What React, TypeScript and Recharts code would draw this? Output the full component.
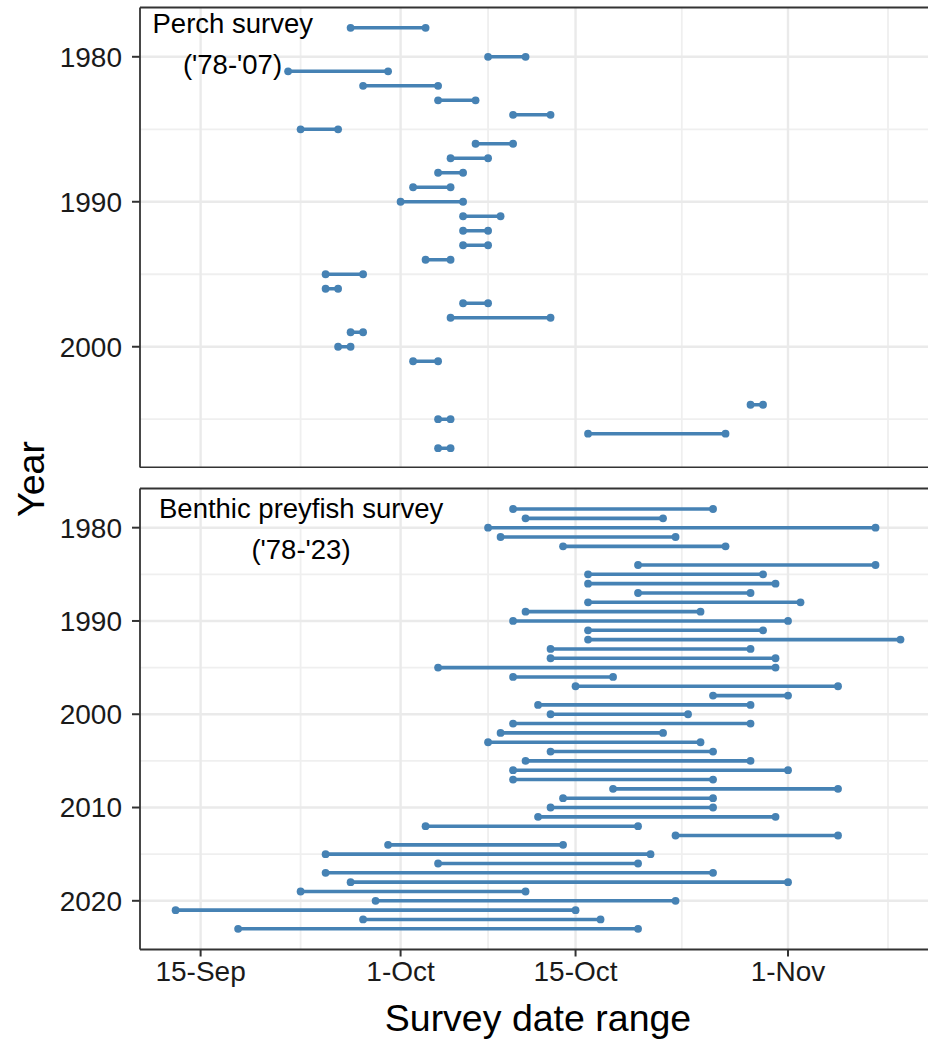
import React from 'react';
import { ScatterChart, Scatter, XAxis, YAxis, ReferenceLine } from 'recharts';

// dates are counted in days from 1-Sep (1-Sep = 0, 1-Oct = 30, 1-Nov = 61)
const xTicks = [14, 30, 44, 61];
const xTickLabels = ['15-Sep', '1-Oct', '15-Oct', '1-Nov'];
const xMinor = [22, 37, 52.5, 69];

const perchYears = [1978, 1980, 1981, 1982, 1983, 1984, 1985, 1986, 1987, 1988, 1989, 1990, 1991, 1992, 1993, 1994, 1995, 1996, 1997, 1998, 1999, 2000, 2001, 2004, 2005, 2006, 2007];
const perchStart = [26, 37, 21, 27, 33, 39, 22, 36, 34, 33, 31, 30, 35, 35, 35, 32, 24, 24, 35, 34, 26, 25, 31, 58, 33, 45, 33];
const perchEnd = [32, 40, 29, 33, 36, 42, 25, 39, 37, 35, 34, 35, 38, 37, 37, 34, 27, 25, 37, 42, 27, 26, 33, 59, 34, 56, 34];

const benthicYears = [1978, 1979, 1980, 1981, 1982, 1984, 1985, 1986, 1987, 1988, 1989, 1990, 1991, 1992, 1993, 1994, 1995, 1996, 1997, 1998, 1999, 2000, 2001, 2002, 2003, 2004, 2005, 2006, 2007, 2008, 2009, 2010, 2011, 2012, 2013, 2014, 2015, 2016, 2017, 2018, 2019, 2020, 2021, 2022, 2023];
const benthicStart = [39, 40, 37, 38, 43, 49, 45, 45, 49, 45, 40, 39, 45, 45, 42, 42, 33, 39, 44, 55, 41, 42, 39, 38, 37, 42, 40, 39, 39, 47, 43, 42, 41, 32, 52, 29, 24, 33, 24, 26, 22, 28, 12, 27, 17];
const benthicEnd = [55, 51, 68, 52, 56, 68, 59, 60, 58, 62, 54, 61, 59, 70, 58, 60, 60, 47, 65, 61, 58, 53, 58, 51, 54, 55, 58, 61, 55, 65, 55, 55, 60, 49, 65, 43, 50, 49, 55, 61, 40, 52, 44, 46, 49];

const perchYTicks = [1980, 1990, 2000];
const perchYMinor = [1985, 1995, 2005];
const benthicYTicks = [1980, 1990, 2000, 2010, 2020];
const benthicYMinor = [1985, 1995, 2005, 2015];

// right end of the panel runs off the picture, so the domain stops at the image edge
const X_DOMAIN: [number, number] = [9.15, 72.2];
const BLUE = '#4682B4';
const FONT = '"Liberation Sans", Arial, sans-serif';
const CHART_W = 928;
const BORDER = '#333333';

const Dot = (props: any) => {
  if (props.cx == null || props.cy == null) return null;
  return <circle cx={props.cx} cy={props.cy} r={3.9} fill={BLUE} />;
};

function Panel({ years, starts, ends, yDomain, yTicks, yMinor, showX, top, height, marginTop }: any) {
  const rows = years.map((y: number, i: number) => [
    { x: starts[i], y },
    { x: ends[i], y },
  ]);
  return (
    <div style={{ position: 'absolute', left: 0, top }}>
      <ScatterChart
        width={CHART_W}
        height={height}
        margin={{ top: marginTop, right: 0, bottom: 0, left: 0 }}
      >
        <XAxis
          type="number"
          dataKey="x"
          domain={X_DOMAIN}
          allowDataOverflow
          ticks={xTicks}
          interval={0}
          tickFormatter={(v: number) => xTickLabels[xTicks.indexOf(v)]}
          hide={!showX}
          height={showX ? 52 : 0}
          axisLine={false}
          tickSize={7}
          tickMargin={5}
          tickLine={{ stroke: BORDER, strokeWidth: 2 }}
          tick={{ fill: '#1a1a1a', fontSize: 28, fontFamily: FONT }}
        />
        <YAxis
          type="number"
          dataKey="y"
          domain={yDomain}
          allowDataOverflow
          reversed
          ticks={yTicks}
          interval={0}
          width={140}
          axisLine={false}
          tickSize={8}
          tickMargin={10}
          tickLine={{ stroke: BORDER, strokeWidth: 2 }}
          tick={{ fill: '#1a1a1a', fontSize: 28, fontFamily: FONT }}
        />
        {xMinor.map((v) => (
          <ReferenceLine key={'xm' + v} x={v} stroke="#EFEFEF" strokeWidth={1.8} zIndex={-100} />
        ))}
        {yMinor.map((v: number) => (
          <ReferenceLine key={'ym' + v} y={v} stroke="#EFEFEF" strokeWidth={1.8} zIndex={-100} />
        ))}
        {xTicks.map((v) => (
          <ReferenceLine key={'xM' + v} x={v} stroke="#EAEAEA" strokeWidth={2.4} zIndex={-100} />
        ))}
        {yTicks.map((v: number) => (
          <ReferenceLine key={'yM' + v} y={v} stroke="#EAEAEA" strokeWidth={2.4} zIndex={-100} />
        ))}
        {rows.map((d: any, i: number) => (
          <Scatter
            key={i}
            data={d}
            fill={BLUE}
            line={{ stroke: BLUE, strokeWidth: 3.6 }}
            shape={Dot}
            isAnimationActive={false}
          />
        ))}
        {/* panel border: left, top, bottom (right side is outside the picture) */}
        <ReferenceLine x={X_DOMAIN[0]} stroke={BORDER} strokeWidth={1.8} zIndex={1000} />
        <ReferenceLine y={yDomain[0]} stroke={BORDER} strokeWidth={1.8} zIndex={1000} />
        <ReferenceLine y={yDomain[1]} stroke={BORDER} strokeWidth={1.8} zIndex={1000} />
      </ScatterChart>
    </div>
  );
}

export default function App() {
  return (
    <div style={{ position: 'fixed', left: 0, top: 0, width: 928, height: 1042, overflow: 'hidden', background: '#fff' }}>
      <style>{'body{margin:0}'}</style>
      <Panel
        years={perchYears}
        starts={perchStart}
        ends={perchEnd}
        yDomain={[1976.6, 2008.33]}
        yTicks={perchYTicks}
        yMinor={perchYMinor}
        showX={false}
        top={0}
        height={467.5}
        marginTop={7.5}
      />
      <Panel
        years={benthicYears}
        starts={benthicStart}
        ends={benthicEnd}
        yDomain={[1975.8, 2025.22]}
        yTicks={benthicYTicks}
        yMinor={benthicYMinor}
        showX={true}
        top={480}
        height={521.5}
        marginTop={8.5}
      />
      <svg
        width={928}
        height={1042}
        style={{ position: 'absolute', left: 0, top: 0, pointerEvents: 'none' }}
        fontFamily={FONT}
      >
        <text x={152.5} y={33} fontSize={27.5} fill="#000">Perch survey</text>
        <text x={232.5} y={74} fontSize={27.5} fill="#000" textAnchor="middle">('78-'07)</text>
        <text x={159} y={518} fontSize={27.5} fill="#000">Benthic preyfish survey</text>
        <text x={301} y={559} fontSize={27.5} fill="#000" textAnchor="middle">('78-'23)</text>
        <text x={538} y={1031} fontSize={37.5} fill="#000" textAnchor="middle">Survey date range</text>
        <text x={44} y={479} fontSize={37.5} fill="#000" textAnchor="middle" transform="rotate(-90 44 479)">Year</text>
      </svg>
    </div>
  );
}
